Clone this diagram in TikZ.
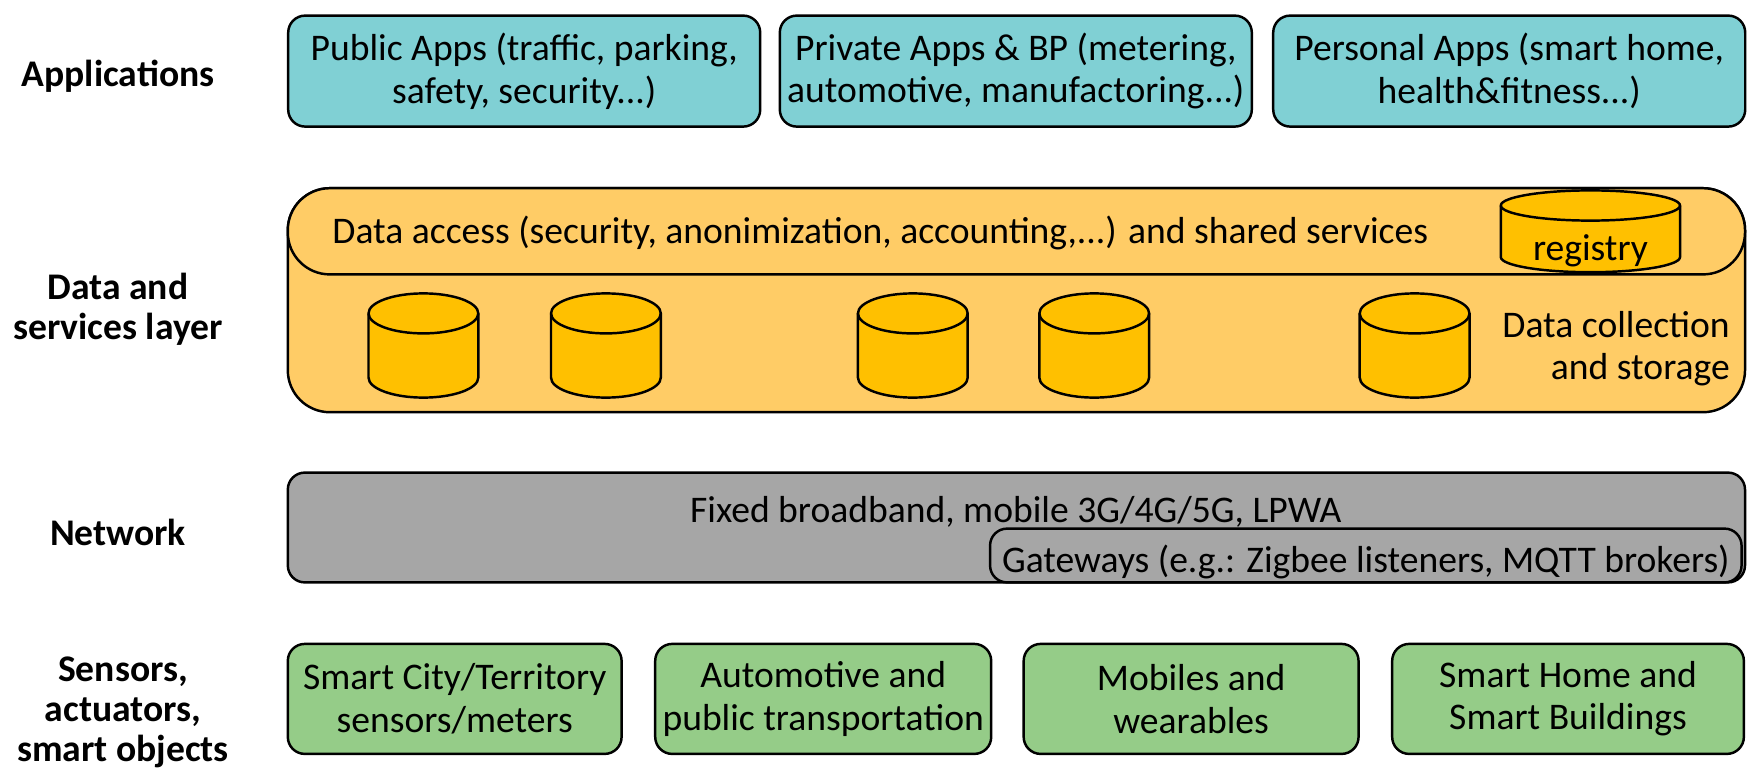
\documentclass[tikz,border=0pt]{standalone}
\usepackage{fontspec}
\setmainfont{Carlito}
\usetikzlibrary{calc}

\definecolor{appcol}{HTML}{80D0D4}
\definecolor{datacol}{HTML}{FFCC66}
\definecolor{storecol}{HTML}{FFC000}
\definecolor{netcol}{HTML}{A6A6A6}
\definecolor{sensecol}{HTML}{95CC88}

\tikzset{
  layerlabel/.style={font=\fontsize{10.7}{11.4}\selectfont\bfseries, align=center},
  box/.style={draw, line width=0.7pt, rounded corners=0.17cm, align=center,
    font=\fontsize{10.7}{12.1}\selectfont, inner sep=0pt,
    execute at begin node={\rule{0pt}{11.4pt}}},
  appbox/.style={box, fill=appcol, minimum width=4.72cm, minimum height=1.11cm},
  sensebox/.style={box, fill=sensecol, minimum height=1.10cm},
  plain/.style={align=center, font=\fontsize{10.7}{12.1}\selectfont, inner sep=0pt}
}

% cylinder: centre x, top y, width, height, ellipse radius
\newcommand{\storecyl}[5]{%
  \begin{scope}[shift={(#1,#2)}]
    \filldraw[fill=storecol, line width=0.7pt] (-#3/2,-#5) -- (-#3/2,-#4+#5)
      arc (180:360:#3/2 and #5) -- (#3/2,-#5) arc (0:180:#3/2 and #5) -- cycle;
    \draw[line width=0.7pt] (-#3/2,-#5) arc (180:360:#3/2 and #5);
  \end{scope}}

\begin{document}
\begin{tikzpicture}
    \useasboundingbox (0,0) rectangle (17.56,7.76);

    % Layer labels
    \node[layerlabel] (lapps) at (1.18,7.0) {Applications};
    \node[layerlabel] (ldata) at (1.18,4.67) {Data and\\services layer};
    \node[layerlabel] (lnet) at (1.18,2.44) {Network};
    \node[layerlabel] (lsense) at (1.23,0.64) {Sensors,\\actuators,\\smart objects};

    % Applications
    \node[appbox] (public) at (5.242,7.049) {Public Apps (traffic, parking,\\safety, security...)};
    \node[appbox] (private) at (10.158,7.049) {Private Apps \& BP (metering,\\automotive, manufactoring...)};
    \node[appbox] (personal) at (15.092,7.049) {Personal Apps (smart home,\\health\&fitness...)};

    % Data and services layer
    \node[box, fill=datacol, rounded corners=0.42cm, minimum width=14.572cm, minimum height=2.24cm] (storage) at (10.164,4.758) {};
    \node[box, fill=datacol, rounded corners=0.42cm, minimum width=14.572cm, minimum height=0.862cm] (access) at (10.164,5.447) {};
    \node[plain] (accesstext) at (8.803,5.43) {Data access (security, anonimization, accounting,...) and shared services};
    \storecyl{15.904}{5.856}{1.792}{0.818}{0.151}
    \node[plain] (registry) at (15.904,5.251) {registry};
    \foreach \cx in {4.234,6.059,9.128,10.942,14.146}{
      \storecyl{\cx}{4.826}{1.098}{1.042}{0.20}
    }
    \node[plain, align=right, anchor=east] (collect) at (17.304,4.271) {Data collection\\and storage};

    % Network
    \node[box, fill=netcol, minimum width=14.572cm, minimum height=1.098cm] (net) at (10.164,2.485) {};
    \node[plain] (nettext) at (10.158,2.642) {Fixed broadband, mobile 3G/4G/5G, LPWA};
    \node[box, fill=netcol, minimum width=7.515cm, minimum height=0.538cm] (gateways) at (13.658,2.205) {Gateways (e.g.: Zigbee listeners, MQTT brokers)};

    % Sensors, actuators, smart objects
    \node[sensebox, minimum width=3.338cm] (city) at (4.547,0.771) {Smart City/Territory\\sensors/meters};
    \node[sensebox, minimum width=3.36cm] (auto) at (8.232,0.771) {Automotive and\\public transportation};
    \node[sensebox, minimum width=3.349cm] (mobile) at (11.911,0.771) {Mobiles and\\wearables};
    \node[sensebox, minimum width=3.517cm] (home) at (15.68,0.771) {Smart Home and\\Smart Buildings};
\end{tikzpicture}
\end{document}
